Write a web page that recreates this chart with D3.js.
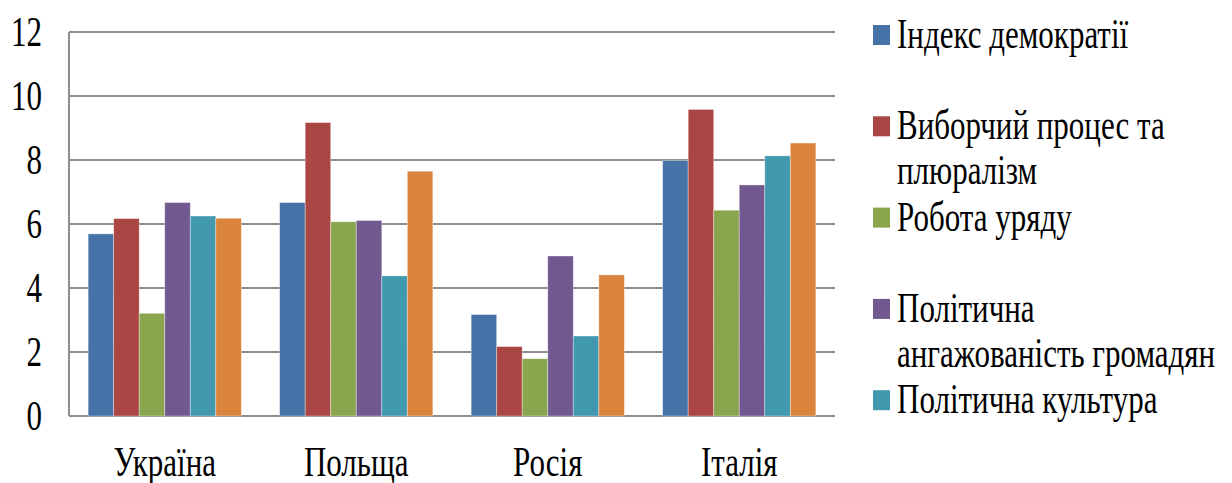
<!DOCTYPE html>
<html>
<head>
<meta charset="utf-8">
<script src="https://cdn.jsdelivr.net/npm/d3@7"></script>
</head>
<body style="margin:0">
<script>
// data
var countries = ["Україна", "Польща", "Росія", "Італія"];
var series = ["Індекс демократії", "Виборчий процес та плюралізм", "Робота уряду",
              "Політична ангажованість\u00a0громадян", "Політична культура", "Громадянські свободи"];
var colors = ["#4572A7", "#AA4643", "#89A54E", "#71588F", "#4198AF", "#DB843D"];
var ukraine = [5.69, 6.17, 3.21, 6.67, 6.25, 6.18];
var poland  = [6.67, 9.17, 6.07, 6.11, 4.38, 7.65];
var russia  = [3.17, 2.17, 1.79, 5.00, 2.50, 4.41];
var italy   = [7.98, 9.58, 6.43, 7.22, 8.13, 8.53];
var yTicks = [0, 2, 4, 6, 8, 10, 12];

var values = [ukraine, poland, russia, italy];

var W = 1232, H = 483;
var margin = {top: 32, left: 69, right: 397, bottom: 67};
var sy = 1.33; // text in the picture is stretched vertically

var svg = d3.select("body").append("svg")
    .attr("width", W)
    .attr("height", H);

function label(sel) {
    sel.attr("font-family", "Liberation Serif")
       .style("font-family", "Liberation Serif")
       .attr("font-size", "31px")
       .attr("fill", "#000");
}

var x0 = d3.scaleBand().domain(countries)
    .range([margin.left, W - margin.right])
    .paddingInner(0.2).paddingOuter(0.1);
var x1 = d3.scaleBand().domain(d3.range(series.length))
    .range([0, x0.bandwidth()]);
var y = d3.scaleLinear().domain([0, 12]).range([H - margin.bottom, margin.top]);

// gridlines
svg.append("g").selectAll("line")
    .data(yTicks)
    .enter().append("line")
    .attr("x1", margin.left)
    .attr("x2", W - margin.right)
    .attr("y1", function(d){ return y(d); })
    .attr("y2", function(d){ return y(d); })
    .attr("stroke", "#8c8c8c")
    .attr("stroke-width", 2);

svg.append("line")
    .attr("x1", margin.left).attr("x2", margin.left)
    .attr("y1", y(12)).attr("y2", y(0))
    .attr("stroke", "#8c8c8c")
    .attr("stroke-width", 2);

// y labels
svg.append("g").selectAll("text")
    .data(yTicks)
    .enter().append("text")
    .call(label)
    .attr("text-anchor", "end")
    .attr("transform", function(d){ return "translate(42," + (y(d) + 14) + ") scale(1," + sy + ")"; })
    .text(function(d){ return d; });

// bars
var groups = svg.append("g").selectAll("g")
    .data(countries)
    .enter().append("g")
    .attr("transform", function(d){ return "translate(" + x0(d) + ",0)"; });

groups.selectAll("rect")
    .data(function(d, i){ return values[i]; })
    .enter().append("rect")
    .attr("x", function(d, i){ return x1(i); })
    .attr("width", x1.bandwidth())
    .attr("y", function(d){ return y(d); })
    .attr("height", function(d){ return y(0) - y(d); })
    .attr("fill", function(d, i){ return colors[i]; })
    .attr("stroke", "rgba(255,255,255,0.45)")
    .attr("stroke-width", 0.8);

// category labels
svg.append("g").selectAll("text")
    .data(countries)
    .enter().append("text")
    .call(label)
    .attr("text-anchor", "middle")
    .attr("transform", function(d){ return "translate(" + (x0(d) + x0.bandwidth() / 2) + ",476) scale(1," + sy + ")"; })
    .text(function(d){ return d; });

// legend (entries that fall below the picture are not shown, as in the original)
var legStep = 91.3, legTop = 48, lineH = 45;
var legData = series.filter(function(d, i){ return legTop + i * legStep < H; });
var legend = svg.append("g").selectAll("g")
    .data(legData)
    .enter().append("g")
    .attr("transform", function(d, i){ return "translate(873," + (legTop + i * legStep) + ")"; });

legend.append("rect")
    .attr("x", 0).attr("y", -23)
    .attr("width", 17).attr("height", 20)
    .attr("fill", function(d, i){ return colors[i]; });

legend.each(function(name){
    var g = d3.select(this);
    var words = name.split(" ");
    var lines = [], cur = "";
    var probe = g.append("text").call(label);
    words.forEach(function(w){
        var test = cur ? cur + " " + w : w;
        probe.text(test);
        if (cur && probe.node().getComputedTextLength() > 300) {
            lines.push(cur);
            cur = w;
        } else {
            cur = test;
        }
    });
    lines.push(cur);
    probe.remove();
    lines.forEach(function(l, k){
        g.append("text")
            .call(label)
            .attr("transform", "translate(24," + (k * lineH) + ") scale(1," + sy + ")")
            .text(l);
    });
});
</script>
</body>
</html>
